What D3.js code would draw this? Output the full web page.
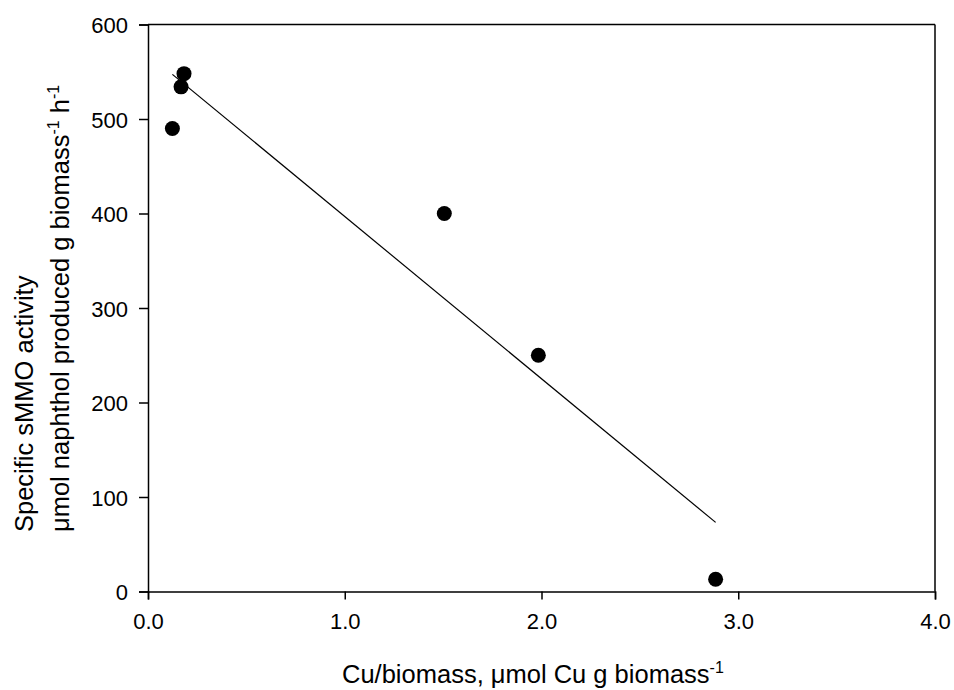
<!DOCTYPE html>
<html>
<head>
<meta charset="utf-8">
<script src="https://cdn.jsdelivr.net/npm/d3@7"></script>
<style>
  html, body { margin: 0; padding: 0; background: #fff; }
  svg { display: block; }
  text { font-family: Arial, "Liberation Sans", sans-serif; fill: #000; }
</style>
</head>
<body>
<svg id="chart" width="954" height="690"></svg>
<script>
// ---- data ----
const cuBiomass = [0.124, 0.168, 0.183, 1.506, 1.984, 2.885];
const activity = [490, 534, 548, 400, 250, 13];
const xTicks = [0, 1, 2, 3, 4];
const yTicks = [0, 100, 200, 300, 400, 500, 600];
const xTitle = "Cu/biomass, \u03bcmol Cu g biomass";
const yTitle1 = "Specific sMMO activity";
const yTitle2a = "\u03bcmol naphthol produced g biomass";
const yTitle2b = " h";

// ---- layout ----
const plotL = 148, plotR = 935, plotT = 24.5, plotB = 591.5;

const svg = d3.select("#chart");
const x = d3.scaleLinear().domain([0, 4]).range([plotL, plotR]);
const y = d3.scaleLinear().domain([0, 600]).range([plotB, plotT]);

const tickFont = "22px";
const titleFont = "25.5px";

// frame: top and right lines
svg.append("line").attr("x1", plotL).attr("x2", plotR).attr("y1", plotT).attr("y2", plotT)
  .attr("stroke", "#000").attr("stroke-width", 1.5);
svg.append("line").attr("x1", plotR).attr("x2", plotR).attr("y1", plotT).attr("y2", plotB)
  .attr("stroke", "#000").attr("stroke-width", 1.5);

// x axis
const xAxis = svg.append("g").attr("transform", `translate(0,${plotB})`)
  .call(d3.axisBottom(x).tickValues(xTicks).tickFormat(d3.format(".1f")).tickSizeOuter(0).tickSize(8).tickPadding(14));
// y axis
const yAxis = svg.append("g").attr("transform", `translate(${plotL},0)`)
  .call(d3.axisLeft(y).tickValues(yTicks).tickFormat(d3.format("d")).tickSizeOuter(0).tickSize(9).tickPadding(11));

[xAxis, yAxis].forEach(g => {
  g.select(".domain").attr("stroke", "#000").attr("stroke-width", 1.5);
  g.selectAll(".tick line").attr("stroke", "#000").attr("stroke-width", 1.5);
  g.selectAll(".tick text").attr("font-size", tickFont)
    .attr("font-family", "Arial, 'Liberation Sans', sans-serif").attr("fill", "#000");
});
yAxis.selectAll(".tick text").attr("dy", "0.38em");
xAxis.selectAll(".tick text").attr("dy", "0.71em");

// regression line (least squares fit of the data)
const n = cuBiomass.length;
const mx = d3.mean(cuBiomass), my = d3.mean(activity);
let sxy = 0, sxx = 0;
for (let i = 0; i < n; i++) {
  sxy += (cuBiomass[i] - mx) * (activity[i] - my);
  sxx += (cuBiomass[i] - mx) ** 2;
}
const slope = sxy / sxx, intercept = my - slope * mx;
const xExt = d3.extent(cuBiomass);
const fitPts = xExt.map(v => [v, intercept + slope * v]);
svg.append("path")
  .attr("d", d3.line().x(d => x(d[0])).y(d => y(d[1]))(fitPts))
  .attr("fill", "none").attr("stroke", "#000").attr("stroke-width", 1.2);

// points
svg.append("g").selectAll("circle")
  .data(cuBiomass.map((v, i) => [v, activity[i]]))
  .join("circle")
  .attr("cx", d => x(d[0])).attr("cy", d => y(d[1])).attr("r", 7.5)
  .attr("fill", "#000");

// x title
const xt = svg.append("text").attr("x", 342).attr("y", 683).attr("font-size", titleFont);
xt.append("tspan").text(xTitle);
xt.append("tspan").attr("font-size", "16px").attr("dy", "-10").text("-1");

// y titles
svg.append("text").attr("transform", "translate(33,532) rotate(-90)")
  .attr("font-size", titleFont).text(yTitle1);
const yt2 = svg.append("text").attr("transform", "translate(69,532) rotate(-90)")
  .attr("font-size", titleFont);
yt2.append("tspan").text(yTitle2a);
yt2.append("tspan").attr("font-size", "16px").attr("dy", "-10").text("-1");
yt2.append("tspan").attr("dy", "10").text(yTitle2b);
yt2.append("tspan").attr("font-size", "16px").attr("dy", "-10").text("-1");
</script>
</body>
</html>
